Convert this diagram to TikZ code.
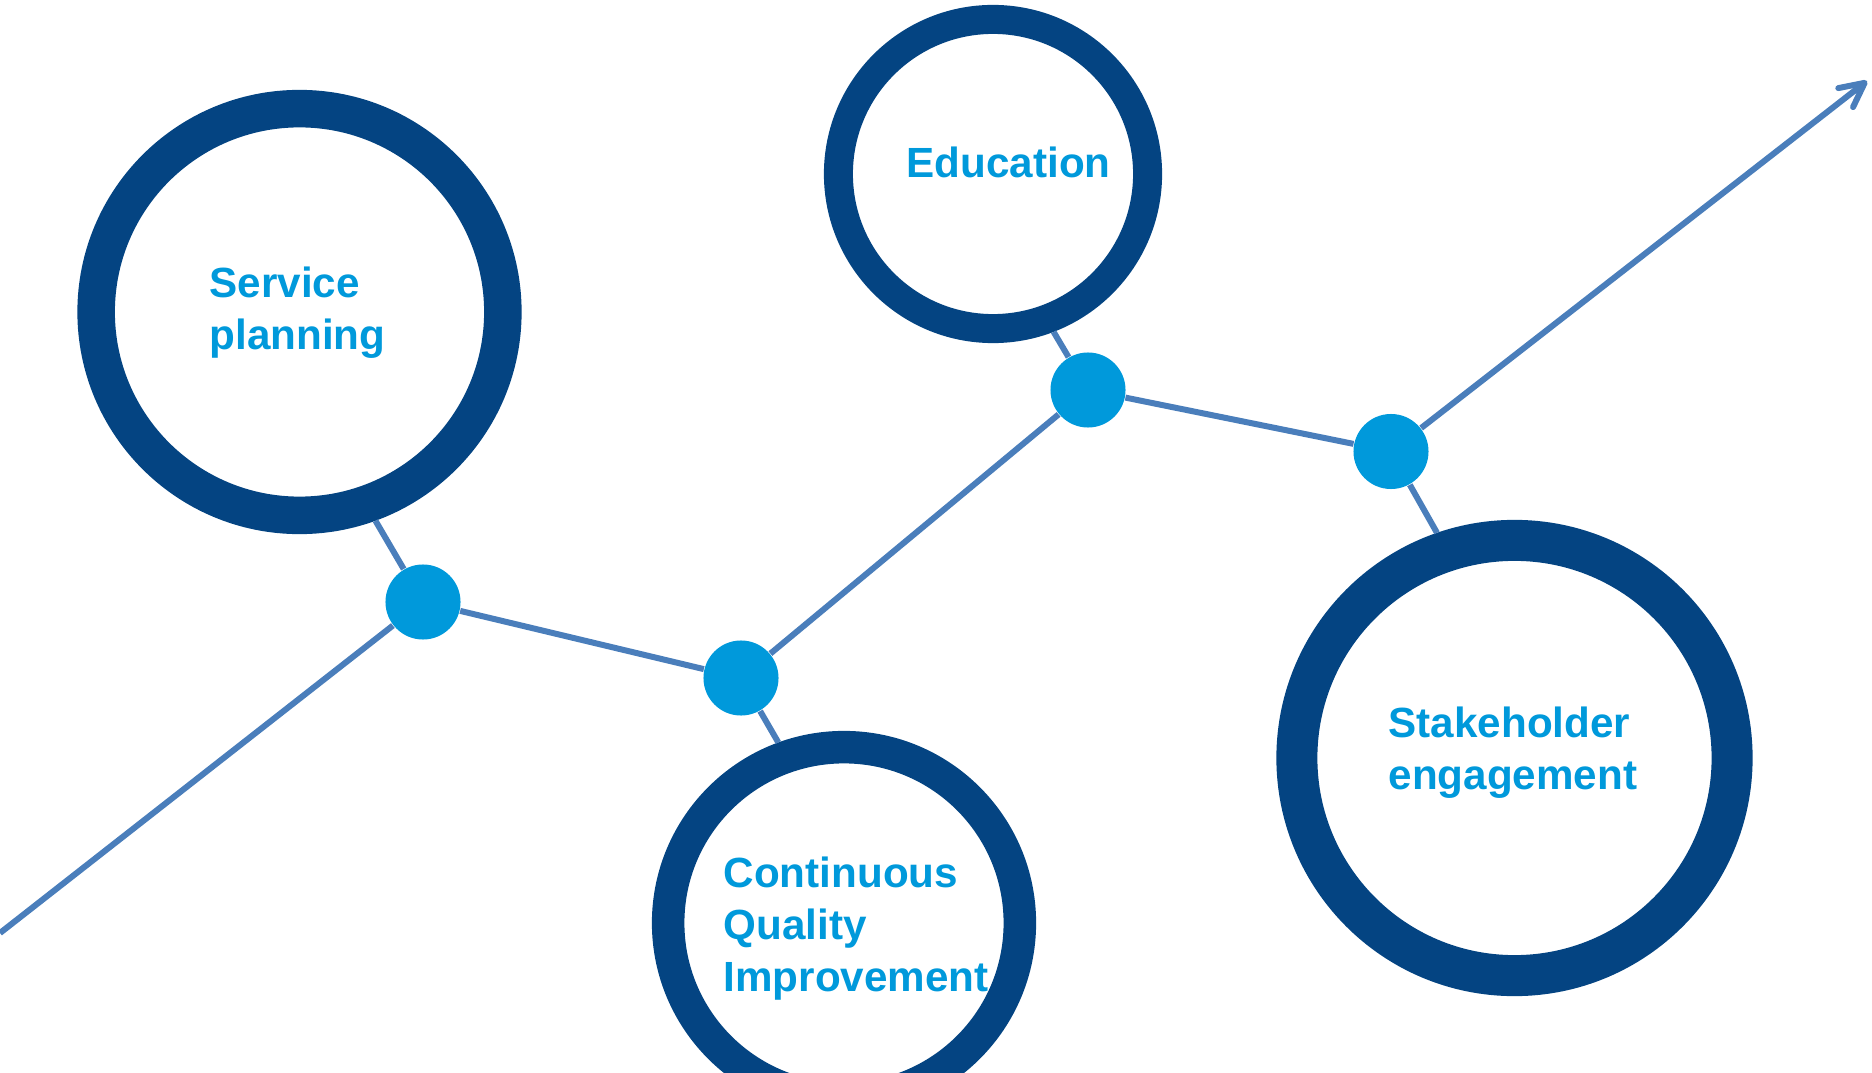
\documentclass[tikz,border=0pt]{standalone}
\usepackage{fontspec}
\setmainfont{Liberation Sans}
\usetikzlibrary{arrows.meta}
\definecolor{ringblue}{RGB}{4,68,130}
\definecolor{hubblue}{RGB}{0,153,219}
\definecolor{linkblue}{RGB}{74,126,187}
\begin{document}
\begin{tikzpicture}[x=0.01cm,y=-0.01cm,
ringnode/.style={circle,draw=ringblue,fill=white,inner sep=0pt},
hub/.style={circle,fill=hubblue,minimum size=0.75cm,inner sep=0pt},
link/.style={draw=linkblue,line width=0.06cm},
topic/.style={anchor=north west,inner sep=0pt,align=left,text=hubblue,font=\bfseries\fontsize{12}{14.8}\selectfont}]
\clip (0,0) rectangle (1872,1073);
\node[ringnode,minimum size=4.065cm,line width=0.375cm] (service) at (299.5,312) {};
\node[ringnode,minimum size=3.09cm,line width=0.29cm] (education) at (993,174) {};
\node[ringnode,minimum size=3.515cm,line width=0.325cm] (cqi) at (844,923) {};
\node[ringnode,minimum size=4.35cm,line width=0.41cm] (stake) at (1514.5,758) {};
\node[hub] (d1) at (423,602) {};
\node[hub] (d2) at (741,678) {};
\node[hub] (d3) at (1088,390) {};
\node[hub] (d4) at (1391,451.5) {};
\coordinate (start) at (0,933);
\coordinate (tip) at (1867,81);
\foreach \a/\b in {start/d1,d1/d2,d2/d3,d3/d4}
\draw[link] (\a) -- (\b);
\foreach \a/\b in {d1/service.290,d2/cqi.110,d3/education.291,d4/stake.109}
\draw[link] (\a) -- (\b);
\draw[link,-{Straight Barb[length=2.4mm,width=2.4mm,round]}] (d4) -- (tip);
\node[topic] (servicetext) at (209,266) {Service\\planning};
\node[topic] (educationtext) at (906,146) {Education};
\node[topic] (cqitext) at (723,856) {Continuous\\Quality\\Improvement};
\node[topic] (staketext) at (1388,706) {Stakeholder\\engagement};
\end{tikzpicture}
\end{document}
